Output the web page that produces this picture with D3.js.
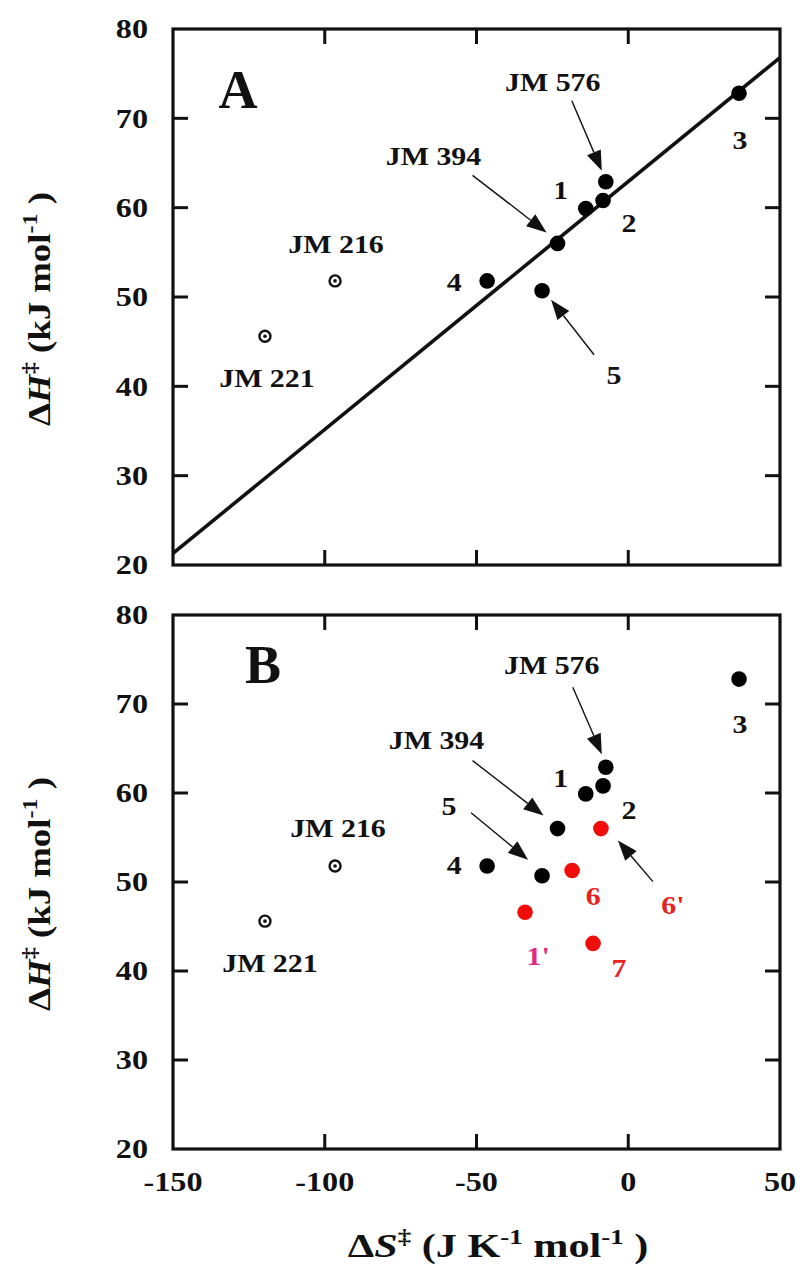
<!DOCTYPE html>
<html>
<head>
<meta charset="utf-8">
<script src="https://cdn.jsdelivr.net/npm/d3@7"></script>
<style>
  html, body { margin: 0; padding: 0; background: #fff; }
  svg { display: block; }
  text { font-family: "Liberation Serif", "Times New Roman", serif; font-weight: bold; fill: #111; }
</style>
</head>
<body>
<svg id="chart" width="806" height="1275"></svg>
<script>
// Activation parameters: entropy ΔS‡ (J K-1 mol-1) vs enthalpy ΔH‡ (kJ mol-1)
const solidNames = ["1", "2", "3", "4", "5", "JM 394", "JM 576"];
const solidDS    = [-14.0, -8.3, 36.5, -46.5, -28.4, -23.3, -7.4];
const solidDH    = [59.9, 60.8, 72.8, 51.8, 50.7, 56.0, 62.9];

const openNames = ["JM 216", "JM 221"];
const openDS    = [-96.6, -119.7];
const openDH    = [51.8, 45.6];

const redNames = ["1'", "6", "6'", "7"];
const redDS    = [-34.0, -18.5, -9.0, -11.6];
const redDH    = [46.6, 51.3, 56.0, 43.1];

// isokinetic fit through the panel A points (end points at the axis limits)
const fitDS = [-150, 50];
const fitDH = [21.3, 76.8];

const xTicks = [-150, -100, -50, 0, 50];
const yTicks = [20, 30, 40, 50, 60, 70, 80];

const svg = d3.select("#chart");
const left = 173, right = 780;
const x = d3.scaleLinear().domain([-150, 50]).range([left, right]);
const panels = [
  { id: "A", top: 29, bottom: 565 },
  { id: "B", top: 615, bottom: 1149 }
];

const SX = 1.15; // horizontal text stretch

function label(g, px, py, str, size, color, anchor) {
  return g.append("text")
    .attr("transform", `translate(${px},${py}) scale(${SX},1)`)
    .attr("text-anchor", anchor || "middle")
    .attr("dominant-baseline", "central")
    .style("font-size", size + "px")
    .style("fill", color || "#111")
    .text(str);
}

function arrow(g, x1, y1, x2, y2) {
  const ang = Math.atan2(y2 - y1, x2 - x1);
  const L = 20, W = 7.5;
  const bx = x2 - L * Math.cos(ang), by = y2 - L * Math.sin(ang);
  g.append("line").attr("x1", x1).attr("y1", y1).attr("x2", bx).attr("y2", by)
    .attr("stroke", "#111").attr("stroke-width", 1.4);
  const px = -Math.sin(ang) * W, py = Math.cos(ang) * W;
  g.append("path")
    .attr("d", `M${x2},${y2}L${bx + px},${by + py}L${bx - px},${by - py}Z`)
    .attr("fill", "#111");
}

const solid = solidNames.map((n, i) => ({ n, s: solidDS[i], h: solidDH[i] }));
const open = openNames.map((n, i) => ({ n, s: openDS[i], h: openDH[i] }));
const red = redNames.map((n, i) => ({ n, s: redDS[i], h: redDH[i] }));
const byName = {};
[...solid, ...open, ...red].forEach(d => byName[d.n] = d);

// annotation layout: label offsets (px) from the point, optional arrow offsets
const notesA = [
  { p: "JM 576", t: "JM 576", dx: -53, dy: -100, a: [-34, -81, -4, -11] },
  { p: "JM 394", t: "JM 394", dx: -124, dy: -87, a: [-85, -68, -11, -11] },
  { p: "1", t: "1", dx: -25, dy: -18 },
  { p: "2", t: "2", dx: 26, dy: 23 },
  { p: "3", t: "3", dx: 1, dy: 47 },
  { p: "4", t: "4", dx: -33, dy: 1 },
  { p: "5", t: "5", dx: 72, dy: 84, a: [52, 64, 9, 9] },
  { p: "JM 216", t: "JM 216", dx: 1, dy: -37 },
  { p: "JM 221", t: "JM 221", dx: 2, dy: 42 }
];
const notesB = [
  { p: "JM 576", t: "JM 576", dx: -54, dy: -102, a: [-33, -80, -4, -13] },
  { p: "JM 394", t: "JM 394", dx: -121, dy: -88, a: [-85, -68, -14, -13] },
  { p: "1", t: "1", dx: -25, dy: -16 },
  { p: "2", t: "2", dx: 26, dy: 24 },
  { p: "3", t: "3", dx: 1, dy: 45 },
  { p: "4", t: "4", dx: -33, dy: -1 },
  { p: "5", t: "5", dx: -93, dy: -70, a: [-71, -63, -14, -16] },
  { p: "6", t: "6", dx: 21, dy: 26, c: "#e8231f" },
  { p: "6'", t: "6'", dx: 72, dy: 77, c: "#e8231f", a: [52, 53, 17, 12] },
  { p: "1'", t: "1'", dx: 13, dy: 44, c: "#e3287f" },
  { p: "7", t: "7", dx: 26, dy: 25, c: "#e8231f" },
  { p: "JM 216", t: "JM 216", dx: 3, dy: -38 },
  { p: "JM 221", t: "JM 221", dx: 5, dy: 42 }
];

panels.forEach((P, pi) => {
  const y = d3.scaleLinear().domain([20, 80]).range([P.bottom, P.top]);
  const g = svg.append("g");
  const TL = 15;

  // clip region for the fit line
  svg.append("clipPath").attr("id", "clip" + P.id)
    .append("rect").attr("x", left).attr("y", P.top)
    .attr("width", right - left).attr("height", P.bottom - P.top);

  // inward ticks on all four sides
  const inner = xTicks.slice(1, -1);
  const innerY = yTicks.slice(1, -1);
  g.selectAll(null).data(inner).join("line")
    .attr("x1", d => x(d)).attr("x2", d => x(d))
    .attr("y1", P.bottom).attr("y2", P.bottom - TL)
    .attr("stroke", "#111").attr("stroke-width", 3);
  g.selectAll(null).data(inner).join("line")
    .attr("x1", d => x(d)).attr("x2", d => x(d))
    .attr("y1", P.top).attr("y2", P.top + TL)
    .attr("stroke", "#111").attr("stroke-width", 3);
  g.selectAll(null).data(innerY).join("line")
    .attr("x1", left).attr("x2", left + TL)
    .attr("y1", d => y(d)).attr("y2", d => y(d))
    .attr("stroke", "#111").attr("stroke-width", 3);
  g.selectAll(null).data(innerY).join("line")
    .attr("x1", right).attr("x2", right - TL)
    .attr("y1", d => y(d)).attr("y2", d => y(d))
    .attr("stroke", "#111").attr("stroke-width", 3);

  // frame
  g.append("rect").attr("x", left).attr("y", P.top)
    .attr("width", right - left).attr("height", P.bottom - P.top)
    .attr("fill", "none").attr("stroke", "#111").attr("stroke-width", 3.2);

  // y tick labels
  yTicks.forEach(v => label(g, 148, y(v), String(v), 28, "#111", "end"));

  // x tick labels (bottom panel only)
  if (pi === 1) {
    xTicks.forEach(v => label(g, x(v), P.bottom + 33, String(v), 28));
  }

  // panel letter
  g.append("text").attr("x", P.id === "A" ? 238 : 263).attr("y", P.id === "A" ? 108 : 683)
    .attr("text-anchor", "middle").style("font-size", "54px").text(P.id);

  // fit line (panel A)
  if (P.id === "A") {
    g.append("line").attr("clip-path", "url(#clipA)")
      .attr("x1", x(fitDS[0])).attr("y1", y(fitDH[0]))
      .attr("x2", x(fitDS[1])).attr("y2", y(fitDH[1]))
      .attr("stroke", "#111").attr("stroke-width", 3.6);
  }

  // annotations with arrows
  const notes = P.id === "A" ? notesA : notesB;
  notes.forEach(nt => {
    const d = byName[nt.p];
    const cx = x(d.s), cy = y(d.h);
    if (nt.a) arrow(g, cx + nt.a[0], cy + nt.a[1], cx + nt.a[2], cy + nt.a[3]);
    label(g, cx + nt.dx, cy + nt.dy, nt.t, 26, nt.c || "#111");
  });

  // open points
  g.selectAll(null).data(open).join("circle")
    .attr("cx", d => x(d.s)).attr("cy", d => y(d.h)).attr("r", 5.5)
    .attr("fill", "#fff").attr("stroke", "#111").attr("stroke-width", 2.4);
  g.selectAll(null).data(open).join("circle")
    .attr("cx", d => x(d.s)).attr("cy", d => y(d.h)).attr("r", 1.8)
    .attr("fill", "#111");

  // filled points
  g.selectAll(null).data(solid).join("circle")
    .attr("cx", d => x(d.s)).attr("cy", d => y(d.h)).attr("r", 7.8)
    .attr("fill", "#000");

  if (P.id === "B") {
    g.selectAll(null).data(red).join("circle")
      .attr("cx", d => x(d.s)).attr("cy", d => y(d.h)).attr("r", 7.8)
      .attr("fill", "#f20d0d");
  }

  // y axis title
  const yt = g.append("text")
    .attr("transform", `translate(50,${(P.top + P.bottom) / 2 + 12}) rotate(-90) scale(1.15,1)`)
    .attr("text-anchor", "middle")
    .style("font-size", "32px");
  yt.append("tspan").text("Δ");
  yt.append("tspan").style("font-style", "italic").text("H");
  yt.append("tspan").attr("dy", -13).style("font-size", "21px").text("‡");
  yt.append("tspan").attr("dy", 13).text(" (kJ mol");
  yt.append("tspan").attr("dy", -13).style("font-size", "21px").text("-1");
  yt.append("tspan").attr("dy", 13).text(" )");
});

// x axis title
const xt = svg.append("text")
  .attr("transform", `translate(498,1257) scale(1.28,1)`)
  .attr("text-anchor", "middle")
  .style("font-size", "33px");
xt.append("tspan").text("Δ");
xt.append("tspan").style("font-style", "italic").text("S");
xt.append("tspan").attr("dy", -13).style("font-size", "21px").text("‡");
xt.append("tspan").attr("dy", 13).text(" (J K");
xt.append("tspan").attr("dy", -13).style("font-size", "21px").text("-1");
xt.append("tspan").attr("dy", 13).text(" mol");
xt.append("tspan").attr("dy", -13).style("font-size", "21px").text("-1");
xt.append("tspan").attr("dy", 13).text(" )");
</script>
</body>
</html>
